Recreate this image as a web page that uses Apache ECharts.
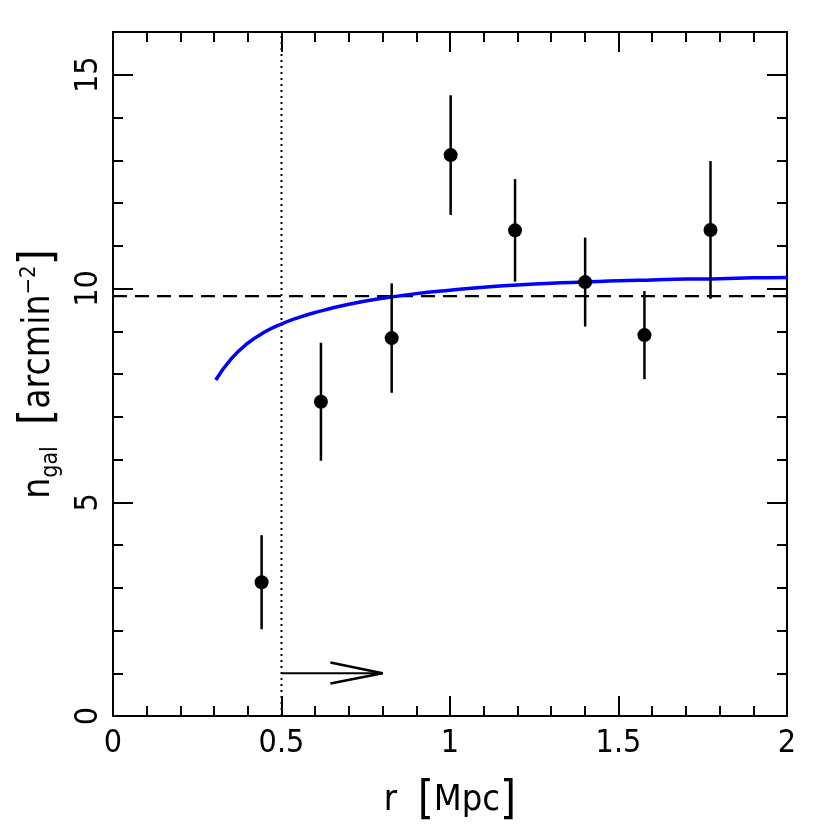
<!DOCTYPE html>
<html>
<head>
<meta charset="utf-8">
<script src="https://cdn.jsdelivr.net/npm/echarts@6/dist/echarts.min.js"></script>
<style>
html,body{margin:0;padding:0;background:#fff;}
#chart{width:830px;height:830px;}
</style>
</head>
<body>
<div id="chart"></div>
<script>
// ---- data ----
const ptX   = [0.441, 0.617, 0.827, 1.002, 1.193, 1.401, 1.577, 1.773];
const ptY   = [3.13, 7.35, 8.84, 13.12, 11.36, 10.15, 8.91, 11.37];
const ptErr = [1.10, 1.38, 1.28, 1.40, 1.20, 1.04, 1.03, 1.61];

const curveX = [0.305, 0.35, 0.40, 0.45, 0.50, 0.55, 0.60, 0.70, 0.80, 0.90, 1.00, 1.10, 1.20, 1.30, 1.40, 1.50, 1.60, 1.70, 1.80, 1.90, 2.00];
const curveY = [7.86, 8.35, 8.72, 8.98, 9.17, 9.32, 9.44, 9.63, 9.77, 9.88, 9.96, 10.03, 10.08, 10.12, 10.15, 10.18, 10.20, 10.22, 10.23, 10.25, 10.26];

const meanLevel = 9.82;
const cutR = 0.5;
const arrowShaftX = [0.5, 0.8];
const arrowShaftY = [1.0, 1.0];
const arrowHeadX = [0.645, 0.8, 0.645];
const arrowHeadY = [1.25, 1.0, 0.76];

const xMin = 0, xMax = 2, xStep = 0.5;
const yMin = 0, yMax = 16, yStep = 5;

const zip = (a, b) => a.map((v, i) => [v, b[i]]);
const FONT = '"Liberation Sans Narrow", "DejaVu Sans Condensed", sans-serif';

function axisCommon(extra) {
  return Object.assign({
    type: 'value',
    axisLine: { show: true, onZero: false, lineStyle: { color: '#000', width: 2 } },
    axisTick: { show: true, inside: true, length: 20, lineStyle: { color: '#000', width: 2 } },
    minorTick: { show: true, splitNumber: 5, length: 10, lineStyle: { color: '#000', width: 2 } },
    splitLine: { show: false },
    minorSplitLine: { show: false }
  }, extra);
}

const chart = echarts.init(document.getElementById('chart'), null, { renderer: 'canvas' });
chart.setOption({
  animation: false,
  backgroundColor: '#fff',
  grid: { left: 113, right: 43, top: 32, bottom: 114, containLabel: false },
  xAxis: [
    axisCommon({
      position: 'bottom', min: xMin, max: xMax, interval: xStep,
      axisLabel: { show: true, color: '#000', fontSize: 32, fontFamily: FONT, margin: 12 },
      name: '{t|r  }{b|[}{t|Mpc}{b|]}',
      nameLocation: 'middle', nameGap: 62,
      nameTextStyle: {
        rich: {
          t: { fontSize: 36, fontFamily: FONT, color: '#000' },
          b: { fontSize: 46, fontFamily: FONT, color: '#000' }
        }
      }
    }),
    axisCommon({
      position: 'top', min: xMin, max: xMax, interval: xStep,
      axisLabel: { show: false }
    })
  ],
  yAxis: [
    axisCommon({
      position: 'left', min: yMin, max: yMax, interval: yStep,
      axisLabel: { show: true, showMaxLabel: false, color: '#000', fontSize: 32, fontFamily: FONT, margin: 8, rotate: 90 },
      name: '{t|n}{sub|gal}{t|  }{b|[}{t|arcmin}{sup|−2}{b|]}',
      nameLocation: 'middle', nameGap: 50, nameRotate: 90,
      nameTextStyle: {
        rich: {
          t: { fontSize: 37, fontFamily: FONT, color: '#000' },
          sub: { fontSize: 23, fontFamily: FONT, color: '#000', padding: [24, 0, 0, 0] },
          sup: { fontSize: 22, fontFamily: FONT, color: '#000', padding: [0, 0, 20, 0] },
          b: { fontSize: 46, fontFamily: FONT, color: '#000' }
        }
      }
    }),
    axisCommon({
      position: 'right', min: yMin, max: yMax, interval: yStep,
      axisLabel: { show: false }
    })
  ],
  series: [
    {
      type: 'line', data: zip(curveX, curveY), smooth: true, showSymbol: false,
      lineStyle: { color: '#0000ff', width: 3.5 }, z: 3
    },
    {
      type: 'line', data: [[xMin, meanLevel], [xMax, meanLevel]], showSymbol: false,
      lineStyle: { color: '#000', width: 2.2, type: [14, 8] }, z: 2
    },
    {
      type: 'line', data: [[cutR, yMin], [cutR, yMax]], showSymbol: false,
      lineStyle: { color: '#000', width: 2, type: [2, 4] }, z: 2
    },
    {
      type: 'line', data: zip(arrowShaftX, arrowShaftY), showSymbol: false,
      lineStyle: { color: '#000', width: 2 }, z: 2
    },
    {
      type: 'line', data: zip(arrowHeadX, arrowHeadY), showSymbol: false,
      lineStyle: { color: '#000', width: 2.5 }, z: 2
    },
    {
      type: 'custom',
      data: ptX.map((x, i) => [x, ptY[i] - ptErr[i], ptY[i] + ptErr[i]]),
      renderItem: function (params, api) {
        const p1 = api.coord([api.value(0), api.value(1)]);
        const p2 = api.coord([api.value(0), api.value(2)]);
        return {
          type: 'line',
          shape: { x1: p1[0], y1: p1[1], x2: p2[0], y2: p2[1] },
          style: { stroke: '#000', lineWidth: 2.5 }
        };
      },
      z: 4
    },
    {
      type: 'scatter', data: zip(ptX, ptY), symbol: 'circle', symbolSize: 14,
      itemStyle: { color: '#000', opacity: 1 }, z: 5
    }
  ]
});
</script>
</body>
</html>
